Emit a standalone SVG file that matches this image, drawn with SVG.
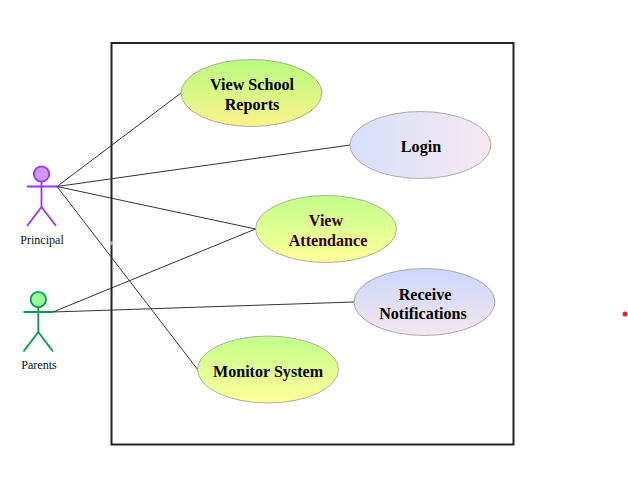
<svg xmlns="http://www.w3.org/2000/svg" width="628" height="482" viewBox="0 0 628 482">
<style>
.lbl{font-family:"Liberation Serif","Times New Roman",serif;font-weight:bold;font-size:16.100px;text-anchor:middle;fill:#000}
.dark{fill:#33001a}
.act{font-family:"Liberation Serif","Times New Roman",serif;font-size:12.100px;text-anchor:middle;fill:#111}
.uc{stroke:#999;stroke-width:0.8}
.conn{stroke:#333;stroke-width:1;fill:none}
.p{stroke:#9933ff;stroke-width:1.800;fill:none}
.g{stroke:#00994d;stroke-width:1.800;fill:none}
</style>
<defs>
<linearGradient id="gy" x1="0" y1="0" x2="0" y2="1"><stop offset="0" stop-color="#c2ff8c"/><stop offset="1" stop-color="#ffff99"/></linearGradient>
<linearGradient id="gy2" x1="0" y1="0" x2="0" y2="1"><stop offset="0" stop-color="#b8fb80"/><stop offset="1" stop-color="#fbf38a"/></linearGradient>
<linearGradient id="bh" x1="0" y1="0" x2="1" y2="0"><stop offset="0" stop-color="#d8dffe"/><stop offset="1" stop-color="#f5e9ef"/></linearGradient>
<linearGradient id="bv" x1="0" y1="0" x2="0" y2="1"><stop offset="0" stop-color="#ccd6fc"/><stop offset="1" stop-color="#f5e6ee"/></linearGradient>
</defs>
<rect id="system" x="111.500" y="43" width="402" height="401.500" fill="#fff" stroke="#222" stroke-width="2"/>
<g id="connectors">
<path class="conn" d="M57 186.500L181 93"/>
<path class="conn" d="M57 186.500L350 145"/>
<path class="conn" d="M57 186.500L255.500 229"/>
<path class="conn" d="M57 186.500L198 370"/>
<path class="conn" d="M53 312L255.500 229"/>
<path class="conn" d="M53 312L354 302"/>
</g>
<g id="principal">
<circle cx="41.500" cy="174" r="7.700" fill="#cc99ff" stroke="#9933ff" stroke-width="1.800"/>
<path class="p" d="M41.500 182V207M27 186.500H57M27 226L41.500 207L56 226"/>
<text class="act" x="42" y="244">Principal</text>
</g>
<g id="parents">
<circle cx="38.300" cy="299.500" r="7.700" fill="#99ff99" stroke="#00994d" stroke-width="1.800"/>
<path class="g" d="M38.300 307V332M23.500 312H53M23.500 351.500L38.300 332L53 351.500"/>
<text class="act" x="39" y="369">Parents</text>
</g>
<g id="view-school-reports">
<ellipse class="uc" cx="251.500" cy="93" rx="70.500" ry="33.500" fill="url(#gy2)"/>
<text class="lbl" x="252" y="90">View School</text>
<text class="lbl" x="252" y="110">Reports</text>
</g>
<g id="login">
<ellipse class="uc" cx="420.500" cy="145" rx="70.500" ry="33.500" fill="url(#bh)"/>
<text class="lbl" x="421" y="152">Login</text>
</g>
<g id="view-attendance">
<ellipse class="uc" cx="326" cy="229" rx="70.500" ry="33.500" fill="url(#gy)"/>
<text class="lbl dark" x="326" y="226">View</text>
<text class="lbl dark" x="328" y="246">Attendance</text>
</g>
<g id="receive-notifications">
<ellipse class="uc" cx="424.500" cy="302" rx="70.500" ry="33.500" fill="url(#bv)"/>
<text class="lbl" x="425" y="300">Receive</text>
<text class="lbl" x="423" y="319">Notifications</text>
</g>
<g id="monitor-system">
<ellipse class="uc" cx="268" cy="369.500" rx="70.500" ry="33.500" fill="url(#gy)"/>
<text class="lbl" x="268" y="377">Monitor System</text>
</g>
<circle cx="625" cy="314" r="2.500" fill="#e8202a"/>
<path d="M108.500 241.500h6l-3 4z" fill="#c5d8e8" fill-opacity="0.8"/>
</svg>
